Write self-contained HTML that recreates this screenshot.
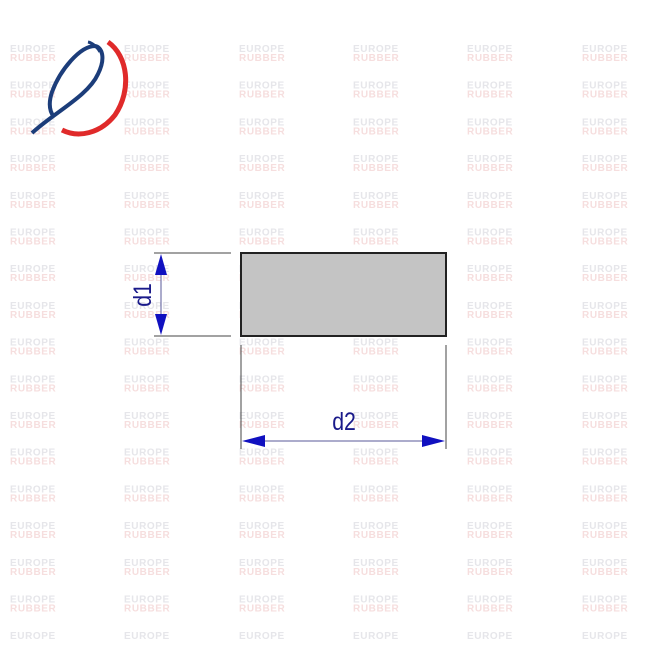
<!DOCTYPE html>
<html><head><meta charset="utf-8"><style>
html,body{margin:0;padding:0;background:#fff;width:650px;height:650px;overflow:hidden}
svg{display:block}
</style></head><body>
<svg id="s" width="650" height="650" viewBox="0 0 650 650" xmlns="http://www.w3.org/2000/svg">
<rect width="650" height="650" fill="#fff"/>
<g id="wm" font-family="Liberation Sans, sans-serif" font-weight="bold" font-size="10" letter-spacing="0.6"></g>
<!-- logo -->
<path d="M32 133 C 55 112, 88 96, 98 74 C 106 58, 102 47, 95 46 C 80 46, 60 70, 52 92 C 48 104, 50 112, 54 117" fill="none" stroke="#1c3d7a" stroke-width="4"/>
<path d="M88 42 C 93 43, 98 48, 100 52" fill="none" stroke="#1c3d7a" stroke-width="3"/>
<path d="M108 42 C 128 56, 132 90, 115 115 C 100 134, 78 138, 62 130" fill="none" stroke="#e02a2a" stroke-width="5"/>
<!-- shape -->
<rect x="241" y="253" width="205" height="83" fill="#c4c4c4" stroke="#222" stroke-width="2"/>
<g stroke="#444" stroke-width="1">
<line x1="154" y1="253" x2="231" y2="253"/>
<line x1="154" y1="336" x2="231" y2="336"/>
<line x1="241" y1="345" x2="241" y2="449"/>
<line x1="446" y1="345" x2="446" y2="449"/>
</g>
<g stroke="#5a5a9a" stroke-width="1">
<line x1="161" y1="256" x2="161" y2="333"/>
<line x1="244" y1="441" x2="443" y2="441"/>
</g>
<g fill="#1010c0">
<polygon points="161,254 155,275 167,275"/>
<polygon points="161,335 155,314 167,314"/>
<polygon points="242,441 265,435 265,447"/>
<polygon points="445,441 422,435 422,447"/>
</g>
<text x="0" y="0" transform="translate(151,295) rotate(-90) scale(0.85,1)" text-anchor="middle" font-family="Liberation Sans, sans-serif" font-size="25" fill="#1a1a8a">d1</text>
<text x="0" y="0" transform="translate(344,430) scale(0.85,1)" text-anchor="middle" font-family="Liberation Sans, sans-serif" font-size="25" fill="#1a1a8a">d2</text>
</svg>
<script>
var g=document.getElementById('wm'),ns='http://www.w3.org/2000/svg';
var xs=[10,124,239,353,467,582];
for(var r=0;r<17;r++){var y=52+r*36.7;for(var i=0;i<6;i++){
var t=document.createElementNS(ns,'text');t.setAttribute('x',xs[i]);t.setAttribute('y',y);t.setAttribute('fill','#e6e6ea');t.textContent='EUROPE';g.appendChild(t);
if(r<16){var u=document.createElementNS(ns,'text');u.setAttribute('x',xs[i]);u.setAttribute('y',y+9);u.setAttribute('fill','#f6dede');u.textContent='RUBBER';g.appendChild(u);}
}}
</script>
</body></html>
